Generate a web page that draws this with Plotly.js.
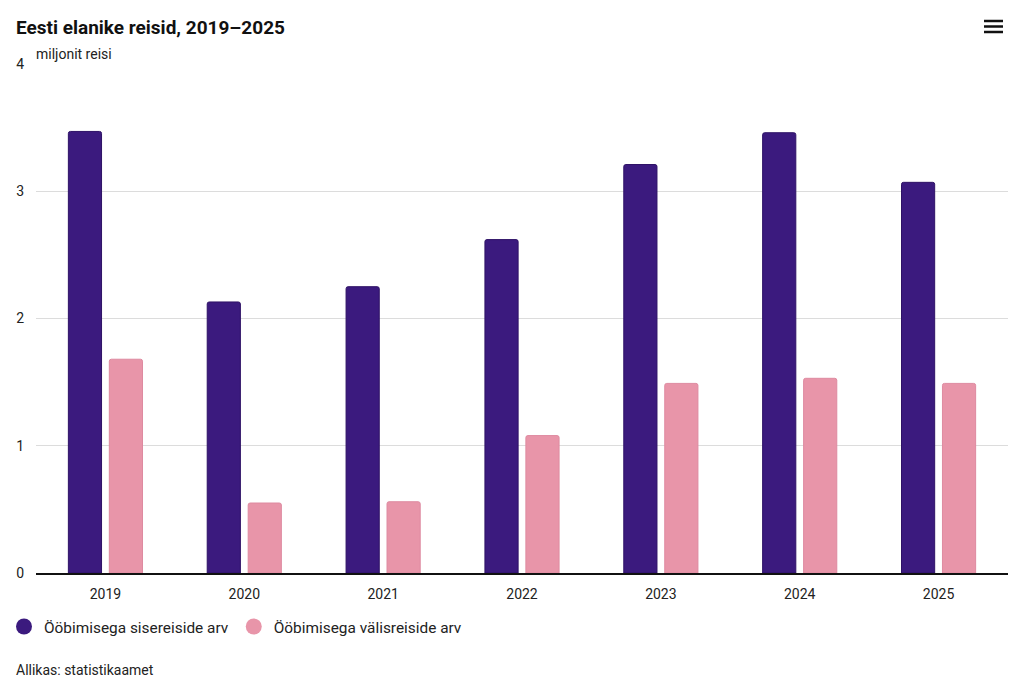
<!DOCTYPE html>
<html>
<head>
<meta charset="utf-8">
<script src="https://cdn.plot.ly/plotly-3.0.1.min.js"></script>
<style>html,body{margin:0;padding:0;background:#fff}#chart{width:1024px;height:691px}</style>
</head>
<body>
<div id="chart"></div>
<script>
const years = ["2019","2020","2021","2022","2023","2024","2025"];
const domestic = [3.47, 2.13, 2.25, 2.62, 3.21, 3.46, 3.07];
const outbound = [1.68, 0.55, 0.56, 1.08, 1.49, 1.53, 1.49];
const seriesNames = ["Ööbimisega sisereiside arv", "Ööbimisega välisreiside arv"];
const colors = ["#3b1a7e", "#e895a9"];
const lineColors = ["#2e1266", "#de8aa0"];

const W = 1024, H = 691;
const m = {l: 36, r: 16, t: 64, b: 118};
const pw = W - m.l - m.r, ph = H - m.t - m.b;
const px = x => (x - m.l) / pw;
const py = y => (H - m.b - y) / ph;

const traces = [
  {type: "bar", x: years, y: domestic, name: seriesNames[0], showlegend: false,
   marker: {color: colors[0], line: {color: lineColors[0], width: 1}}, hoverinfo: "y"},
  {type: "bar", x: years, y: outbound, name: seriesNames[1], showlegend: false,
   marker: {color: colors[1], line: {color: lineColors[1], width: 1}}, hoverinfo: "y"},
  {type: "scatter", mode: "markers", x: [null], y: [null], name: seriesNames[0],
   marker: {symbol: "circle", size: 17, color: colors[0]}},
  {type: "scatter", mode: "markers", x: [null], y: [null], name: seriesNames[1],
   marker: {symbol: "circle", size: 17, color: colors[1]}}
];

const hamburger = [21, 26.5, 32].map(y => ({
  type: "line", xref: "paper", yref: "paper",
  x0: px(984), x1: px(1003), y0: py(y), y1: py(y),
  line: {color: "#111", width: 2.5}
}));

const layout = {
  width: W, height: H,
  margin: m,
  paper_bgcolor: "#fff", plot_bgcolor: "#fff",
  font: {family: "Roboto, sans-serif", color: "#222", size: 14},
  title: {text: "<b>Eesti elanike reisid, 2019–2025</b>", font: {size: 19, color: "#111", family: "Roboto, sans-serif"},
    xref: "container", x: 16 / W, xanchor: "left", yref: "container", y: 1 - 27 / H, yanchor: "middle"},
  barmode: "group",
  bargap: 0.41,
  bargroupgap: 0.19,
  barcornerradius: 2,
  xaxis: {type: "category", showgrid: false, showline: true, linecolor: "#111", linewidth: 1.5,
    ticks: "", tickfont: {size: 14, color: "#222"}, ticklabelstandoff: 7, fixedrange: true},
  yaxis: {range: [0, 4], tickvals: [0, 1, 2, 3, 4], showgrid: true, gridcolor: "#dcdcdc", gridwidth: 1,
    zeroline: false, showline: false, ticks: "", tickfont: {size: 14, color: "#222"}, ticklabelstandoff: 11, fixedrange: true},
  legend: {orientation: "h", xref: "container", x: 4 / W, xanchor: "left",
    yref: "container", y: 1 - 627 / H, yanchor: "middle",
    font: {size: 15.4, color: "#222"}, itemwidth: 30, tracegroupgap: 0},
  annotations: [
    {text: "miljonit reisi", xref: "paper", yref: "paper", x: px(34), y: py(54), xanchor: "left", yanchor: "middle",
     showarrow: false, font: {size: 14, color: "#222"}},
    {text: "Allikas: statistikaamet", xref: "paper", yref: "paper", x: px(14), y: py(670), xanchor: "left", yanchor: "middle",
     showarrow: false, font: {size: 14, color: "#222"}}
  ],
  shapes: hamburger
};

Plotly.newPlot("chart", traces, layout, {displayModeBar: false, staticPlot: false});
</script>
</body>
</html>
